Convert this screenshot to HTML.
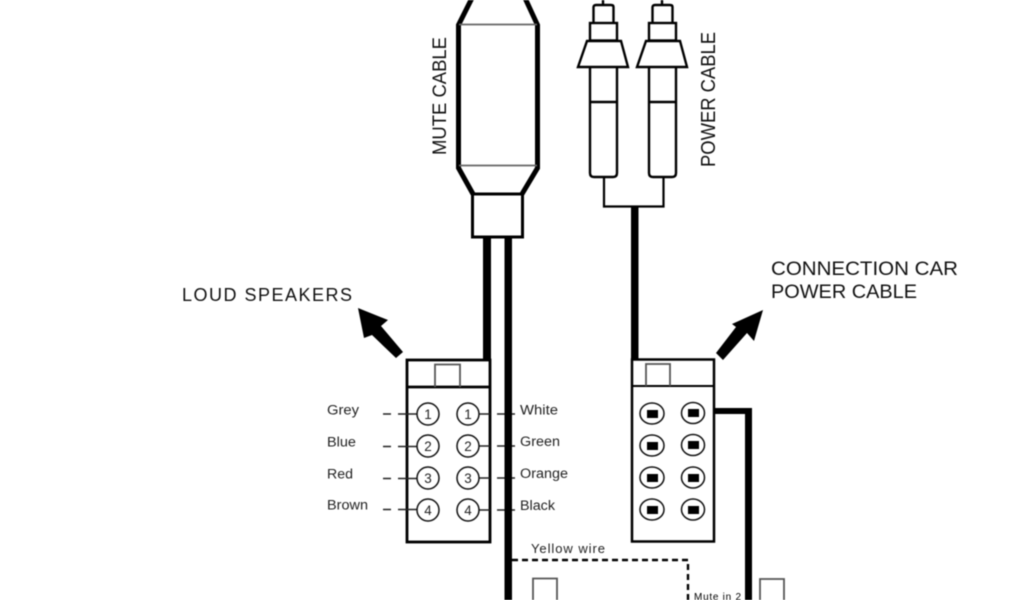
<!DOCTYPE html>
<html><head><meta charset="utf-8"><style>
html,body{margin:0;padding:0;background:#fff;width:1024px;height:600px;overflow:hidden}
svg{display:block;filter:blur(.45px)}
text{font-family:"Liberation Sans",sans-serif;fill:#222}
</style></head><body>
<svg width="1024" height="600" viewBox="0 0 1024 600" xmlns="http://www.w3.org/2000/svg">
<rect width="1024" height="600" fill="#fff"/>
<g fill="none" stroke="#000">
<!-- mute body -->
<path d="M472,-2 L458.500,25 V168 L473,194 M525,-2 L537.500,25 V168 L522,194" stroke-width="5"/>
<path d="M459,24.500 H537 M459,165.500 H537" stroke="#666" stroke-width="1.800"/>
<path d="M473,194 H522" stroke-width="1.500"/>
<rect x="472.500" y="194" width="50" height="43" stroke-width="3"/>
<!-- RCA left -->
<path d="M603,0 V5" stroke-width="2.400"/>
<path d="M593.500,22 V7 Q593.500,5 596,5 H611 Q613.500,5 613.500,7 V22" stroke-width="2.400"/>
<rect x="590" y="23" width="27" height="17.500" stroke-width="2.400"/>
<path d="M587,41 H621 L628,67 H578 Z" stroke-width="2.400"/>
<path d="M590,67 V173 Q590,177 594,177 H613 Q617,177 617,173 V67" stroke-width="2.400"/>
<path d="M590,102 H617" stroke-width="2.400"/>
<!-- RCA right -->
<path d="M662,0 V5" stroke-width="2.400"/>
<path d="M652.500,22 V7 Q652.500,5 655,5 H670 Q672.500,5 672.500,7 V22" stroke-width="2.400"/>
<rect x="649" y="23" width="27" height="17.500" stroke-width="2.400"/>
<path d="M646,41 H680 L687,67 H637 Z" stroke-width="2.400"/>
<path d="M649,67 V173 Q649,177 653,177 H672 Q676,177 676,173 V67" stroke-width="2.400"/>
<path d="M649,102 H676" stroke-width="2.400"/>
<!-- Y joint -->
<path d="M604,177 V206.500 H663.500 V177" stroke-width="2.200"/>
<!-- connector left -->
<rect x="407" y="360" width="83" height="182" stroke-width="2.800"/>
<path d="M407,387 H490" stroke-width="2.800"/>
<path d="M435,387 V364.500 H460 V387" stroke="#555" stroke-width="1.800"/>
<!-- connector right -->
<rect x="632" y="359.500" width="82" height="182" stroke-width="2.500"/>
<path d="M632,386 H714" stroke-width="2"/>
<path d="M646,386 V364 H670 V386" stroke="#555" stroke-width="1.800"/>
<!-- lower boxes -->
<path d="M533,601 V578.500 H557 V601 M760,601 V579 H784 V601" stroke="#555" stroke-width="1.800"/>
<!-- dashes -->
<path d="M512,560 H688 V601" stroke-width="2.400" stroke-dasharray="6 4"/>
<!-- side wires -->
<g stroke="#222" stroke-width="1.500">
<path d="M383,414 H391 M398,414 H417 M383,446.500 H391 M398,446.500 H417 M383,478.500 H391 M398,478.500 H417 M383,509.500 H391 M398,509.500 H417"/>
<path d="M479,414 H490 M497,414 H515 M479,446 H490 M497,446 H515 M479,478 H490 M497,478 H515 M479,510 H490 M497,510 H515"/>
</g>
</g>
<!-- thick wires -->
<g fill="#000">
<rect x="483" y="237" width="8" height="122"/>
<rect x="504.500" y="237" width="7.500" height="363"/>
<rect x="631" y="206" width="7.500" height="154"/>
<path d="M714,408 H752 V600 H745 V414 H714 Z"/>
<polygon points="358,308 388,320 381,326 403,352 396,358 372,335 364,338"/>
<polygon points="763,310 754,341 747,333 723,360 716,353 736,327 732,324"/>
</g>
<!-- circles left -->
<g fill="#fff" stroke="#111" stroke-width="1.500">
<circle cx="428" cy="414" r="11"/><circle cx="468" cy="414" r="11"/>
<circle cx="428" cy="446" r="11"/><circle cx="468" cy="446" r="11"/>
<circle cx="428" cy="478" r="11"/><circle cx="468" cy="478" r="11"/>
<circle cx="428" cy="510" r="11"/><circle cx="468" cy="510" r="11"/>
</g>
<g font-size="13.500" text-anchor="middle">
<text x="428" y="419">1</text><text x="468" y="419">1</text>
<text x="428" y="451">2</text><text x="468" y="451">2</text>
<text x="428" y="483">3</text><text x="468" y="483">3</text>
<text x="428" y="515">4</text><text x="468" y="515">4</text>
</g>
<!-- circles right -->
<g fill="#fff" stroke="#111" stroke-width="1.500">
<ellipse cx="652" cy="413.500" rx="12" ry="10.500"/><ellipse cx="693" cy="413" rx="11.500" ry="10.500"/>
<ellipse cx="652" cy="445.500" rx="12" ry="10.500"/><ellipse cx="693" cy="445" rx="11.500" ry="10.500"/>
<ellipse cx="652" cy="477.500" rx="12" ry="10.500"/><ellipse cx="693" cy="477.500" rx="11.500" ry="10.500"/>
<ellipse cx="652" cy="509.500" rx="12" ry="10.500"/><ellipse cx="693" cy="509.500" rx="11.500" ry="10.500"/>
</g>
<g fill="#000">
<rect x="647" y="410" width="11" height="8"/><rect x="688" y="409" width="11" height="8"/>
<rect x="647" y="442" width="11" height="8"/><rect x="688" y="441" width="11" height="8"/>
<rect x="647" y="474" width="11" height="8"/><rect x="688" y="474" width="11" height="8"/>
<rect x="647" y="506" width="11" height="8"/><rect x="688" y="506" width="11" height="8"/>
</g>
<!-- labels -->
<g style="fill:#111">
<text x="182" y="301" font-size="18" textLength="170" lengthAdjust="spacing" style="fill:#111">LOUD SPEAKERS</text>
<text x="771" y="275" font-size="19" textLength="187" lengthAdjust="spacingAndGlyphs" style="fill:#111">CONNECTION CAR</text>
<text x="771" y="298" font-size="19" textLength="146" lengthAdjust="spacingAndGlyphs" style="fill:#111">POWER CABLE</text>
<text transform="translate(446,155) rotate(-90)" font-size="19" textLength="118" lengthAdjust="spacingAndGlyphs" style="fill:#111">MUTE CABLE</text>
<text transform="translate(715,167) rotate(-90)" font-size="20" textLength="135" lengthAdjust="spacingAndGlyphs" style="fill:#111">POWER CABLE</text>
</g>
<g font-size="13.500">
<text x="327" y="414.500" textLength="32" lengthAdjust="spacingAndGlyphs">Grey</text>
<text x="327" y="446.500" textLength="29" lengthAdjust="spacingAndGlyphs">Blue</text>
<text x="327" y="478.500" textLength="26" lengthAdjust="spacingAndGlyphs">Red</text>
<text x="327" y="509.500" textLength="41" lengthAdjust="spacingAndGlyphs">Brown</text>
<text x="520" y="414.500" textLength="38" lengthAdjust="spacingAndGlyphs">White</text>
<text x="520" y="446" textLength="40" lengthAdjust="spacingAndGlyphs">Green</text>
<text x="520" y="478" textLength="48" lengthAdjust="spacingAndGlyphs">Orange</text>
<text x="520" y="510" textLength="35" lengthAdjust="spacingAndGlyphs">Black</text>
</g>
<text x="531" y="553" font-size="13" textLength="74" lengthAdjust="spacing">Yellow wire</text>
<text x="694" y="600" font-size="10" textLength="47" lengthAdjust="spacing" style="fill:#000">Mute in 2</text>
</svg>
</body></html>
